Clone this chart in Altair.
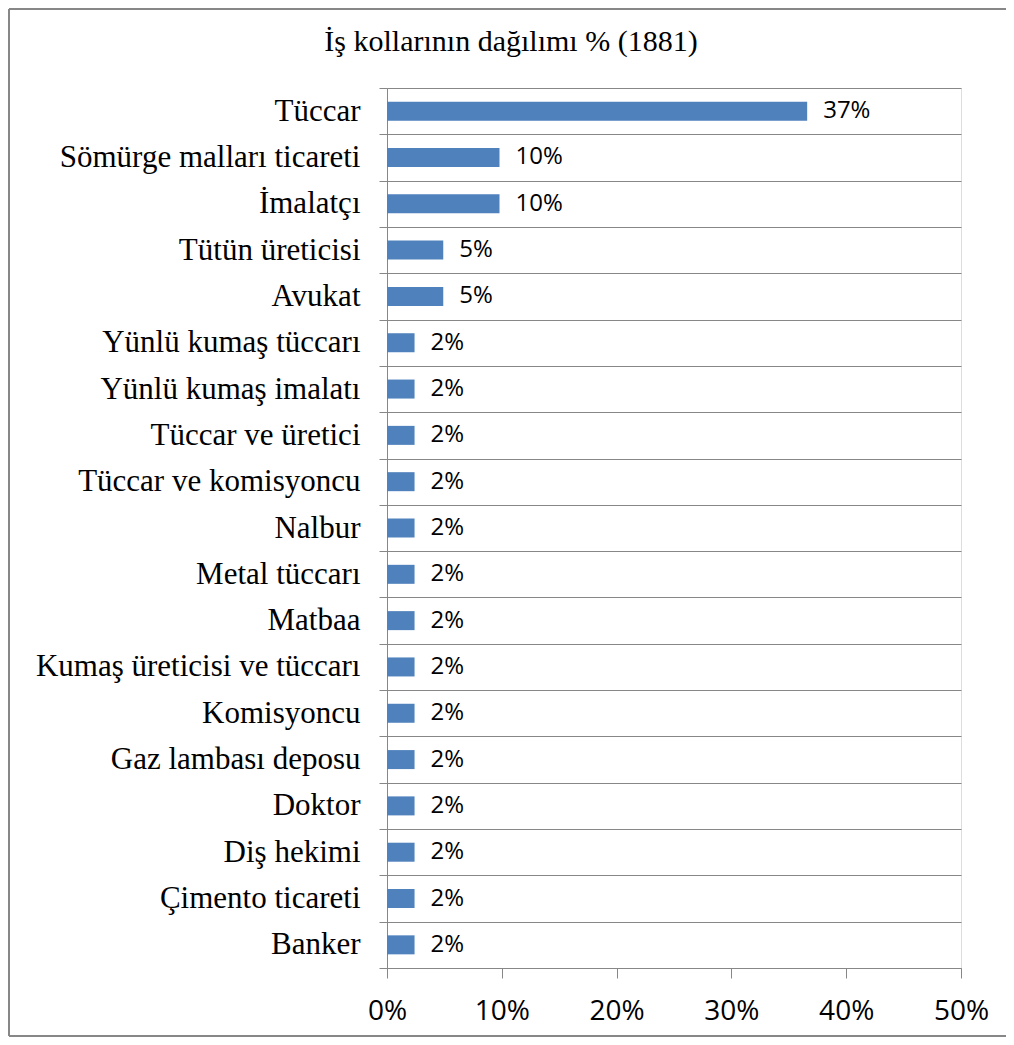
import altair as alt
import pandas as pd

categories = [
    "Tüccar", "Sömürge malları ticareti", "İmalatçı", "Tütün üreticisi", "Avukat",
    "Yünlü kumaş tüccarı", "Yünlü kumaş imalatı", "Tüccar ve üretici",
    "Tüccar ve komisyoncu", "Nalbur", "Metal tüccarı", "Matbaa",
    "Kumaş üreticisi ve tüccarı", "Komisyoncu", "Gaz lambası deposu", "Doktor",
    "Diş hekimi", "Çimento ticareti", "Banker",
]
shares = [0.366, 0.098, 0.098, 0.049, 0.049,
          0.024, 0.024, 0.024, 0.024, 0.024, 0.024, 0.024,
          0.024, 0.024, 0.024, 0.024, 0.024, 0.024, 0.024]
x_ticks = [0, 0.1, 0.2, 0.3, 0.4, 0.5]

df = pd.DataFrame({"cat": categories, "val": shares})

GREY = "#878787"
BLUE = "#4F81BD"
W, H = 574, 880
PAD = {"left": 379, "top": 80, "right": 45, "bottom": 69}

y_enc = alt.Y(
    "cat:N", sort=categories, title=None,
    scale=alt.Scale(paddingInner=0, paddingOuter=0),
    axis=alt.Axis(
        tickBand="extent", grid=True, gridColor=GREY, gridWidth=1,
        domainColor=GREY, tickColor=GREY, tickSize=8, labelPadding=19,
        labelFont="Liberation Serif", labelFontSize=31, labelColor="black",
        labelLimit=500,
    ),
)
x_enc = alt.X(
    "val:Q", title=None,
    scale=alt.Scale(domain=[0, 0.5], nice=False),
    axis=alt.Axis(
        values=x_ticks, format=".0%", grid=False, domainColor=GREY,
        tickColor=GREY, tickSize=10, labelPadding=19, labelFlush=False,
        labelFont="Open Sans", labelFontSize=28, labelColor="black",
    ),
)

bars = alt.Chart(df).mark_bar(size=19, color=BLUE).encode(x=x_enc, y=y_enc)
labels = alt.Chart(df).mark_text(
    align="left", baseline="middle", dx=16, font="Open Sans", fontSize=24, color="black"
).encode(x="val:Q", y=alt.Y("cat:N", sort=categories), text=alt.Text("val:Q", format=".0%"))

one = alt.Data(values=[{}])
left_edge = alt.Chart(one).mark_rule(color=GREY, strokeWidth=2).encode(
    x=alt.value(-PAD["left"] + 1), y=alt.value(-PAD["top"] + 1), y2=alt.value(H + PAD["bottom"] - 1)
)
top_edge = alt.Chart(one).mark_rule(color=GREY, strokeWidth=2).encode(
    x=alt.value(-PAD["left"] + 1), x2=alt.value(W + PAD["right"]), y=alt.value(-PAD["top"] + 1)
)
bottom_edge = alt.Chart(one).mark_rule(color=GREY, strokeWidth=2).encode(
    x=alt.value(-PAD["left"] + 1), x2=alt.value(W + PAD["right"]), y=alt.value(H + PAD["bottom"] - 1)
)

chart = alt.layer(left_edge, top_edge, bottom_edge, bars, labels).properties(
    width=W, height=H,
    title=alt.TitleParams(
        "İş kollarının dağılımı % (1881)", font="Liberation Serif", fontSize=30,
        fontWeight="normal", color="black", anchor="middle", dx=-163,
        baseline="bottom", offset=0, dy=79,
    ),
    autosize=alt.AutoSizeParams(type="none"),
    padding=PAD,
).configure_view(stroke=None).configure(background="white")

chart.save("out.html", embed_options={"renderer": "svg", "actions": False})
